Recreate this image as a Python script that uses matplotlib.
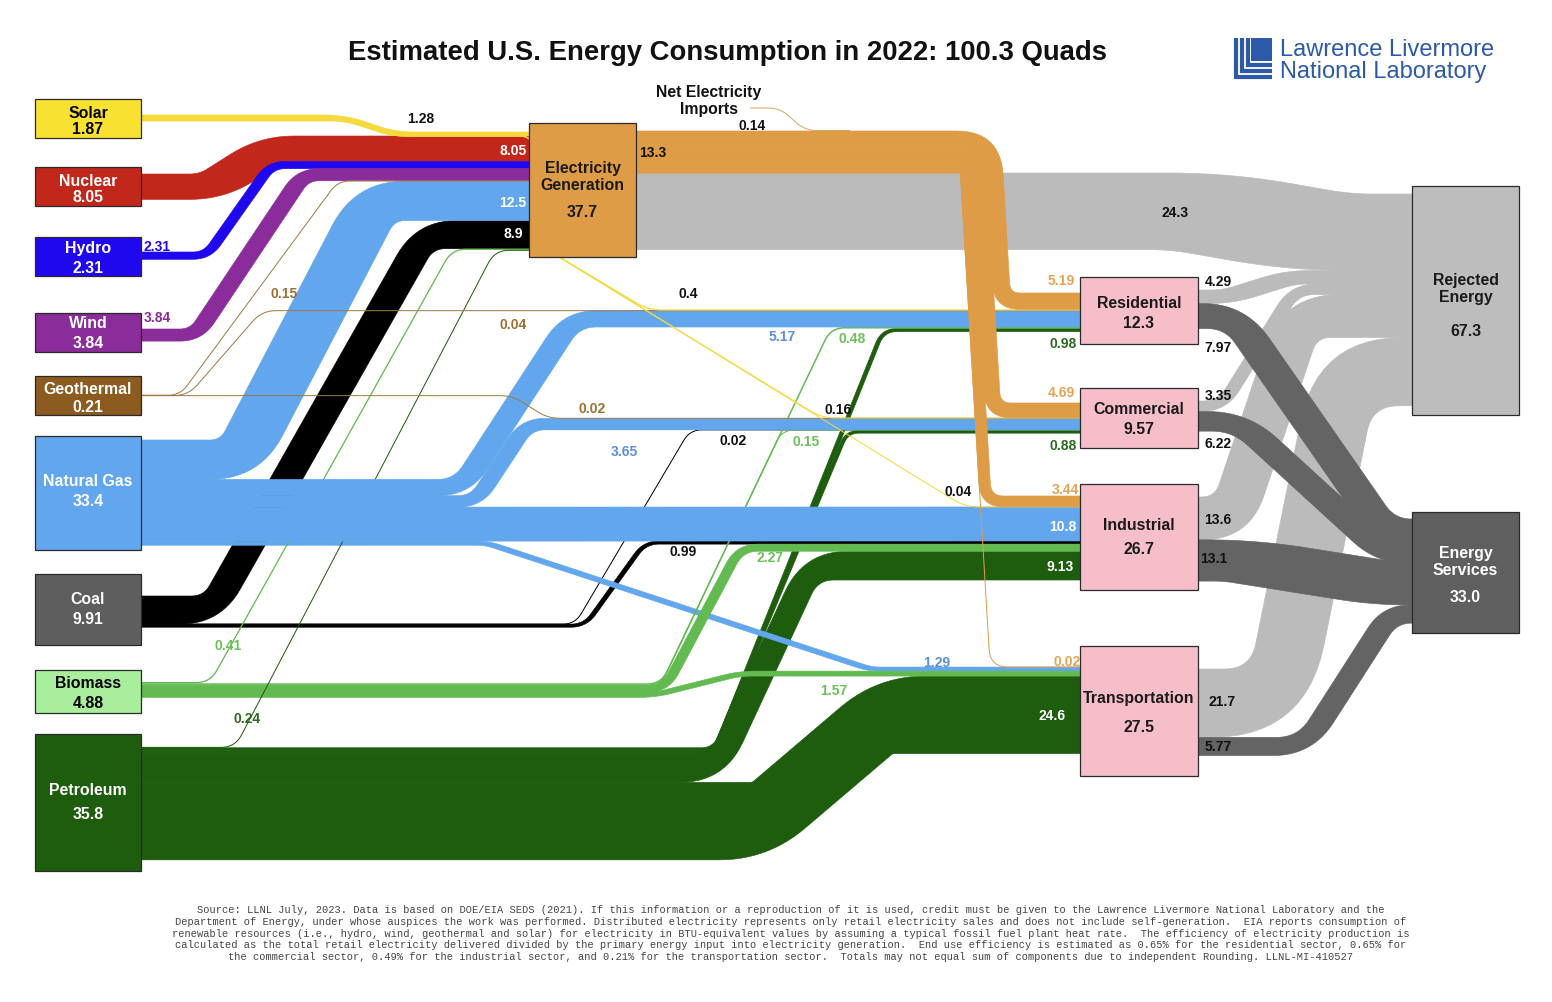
import matplotlib
matplotlib.use("Agg")
import matplotlib.pyplot as plt
from matplotlib.path import Path
from matplotlib.patches import PathPatch, Rectangle, Polygon
import numpy as np

# ---------------- data ----------------
TITLE = "Estimated U.S. Energy Consumption in 2022: 100.3 Quads"

source_names = ["Solar", "Nuclear", "Hydro", "Wind", "Geothermal",
                "Natural Gas", "Coal", "Biomass", "Petroleum"]
source_values = [1.87, 8.05, 2.31, 3.84, 0.21, 33.4, 9.91, 4.88, 35.8]

sector_names = ["Residential", "Commercial", "Industrial", "Transportation"]
sector_values = [12.3, 9.57, 26.7, 27.5]

elec_value = 37.7
elec_delivered = 13.3
imports_value = 0.14
rejected_value = 67.3
services_value = 33.0

flow_src = ["Solar", "Solar", "Solar", "Solar",
            "Nuclear", "Hydro", "Wind",
            "Geothermal", "Geothermal", "Geothermal",
            "Natural Gas", "Natural Gas", "Natural Gas", "Natural Gas", "Natural Gas",
            "Coal", "Coal", "Coal",
            "Biomass", "Biomass", "Biomass", "Biomass", "Biomass",
            "Petroleum", "Petroleum", "Petroleum", "Petroleum", "Petroleum",
            "Electricity", "Electricity", "Electricity", "Electricity", "Electricity",
            "Residential", "Residential", "Commercial", "Commercial",
            "Industrial", "Industrial", "Transportation", "Transportation"]
flow_dst = ["Electricity", "Residential", "Commercial", "Industrial",
            "Electricity", "Electricity", "Electricity",
            "Electricity", "Residential", "Commercial",
            "Electricity", "Residential", "Commercial", "Industrial", "Transportation",
            "Electricity", "Commercial", "Industrial",
            "Electricity", "Residential", "Commercial", "Industrial", "Transportation",
            "Electricity", "Residential", "Commercial", "Industrial", "Transportation",
            "Residential", "Commercial", "Industrial", "Transportation", "Rejected",
            "Rejected", "Services", "Rejected", "Services",
            "Rejected", "Services", "Rejected", "Services"]
flow_val = [1.28, 0.4, 0.16, 0.04,
            8.05, 2.31, 3.84,
            0.15, 0.04, 0.02,
            12.5, 5.17, 3.65, 10.8, 1.29,
            8.9, 0.02, 0.99,
            0.41, 0.48, 0.15, 2.27, 1.57,
            0.24, 0.98, 0.88, 9.13, 24.6,
            5.19, 4.69, 3.44, 0.02, 24.3,
            4.29, 7.97, 3.35, 6.22,
            13.6, 13.1, 21.7, 5.77]

FOOTNOTE = [
    "Source: LLNL July, 2023. Data is based on DOE/EIA SEDS (2021). If this information or a reproduction of it is used, credit must be given to the Lawrence Livermore National Laboratory and the",
    "Department of Energy, under whose auspices the work was performed. Distributed electricity represents only retail electricity sales and does not include self-generation.  EIA reports consumption of",
    "renewable resources (i.e., hydro, wind, geothermal and solar) for electricity in BTU-equivalent values by assuming a typical fossil fuel plant heat rate.  The efficiency of electricity production is",
    "calculated as the total retail electricity delivered divided by the primary energy input into electricity generation.  End use efficiency is estimated as 0.65% for the residential sector, 0.65% for",
    "the commercial sector, 0.49% for the industrial sector, and 0.21% for the transportation sector.  Totals may not equal sum of components due to independent Rounding. LLNL-MI-410527",
]

# ---------------- layout / style ----------------
W, H = 1552, 1003
S = 3.15  # pixels per quad

BOX = {
    "Solar": (35, 100, 141, 139), "Nuclear": (35, 168, 141, 207),
    "Hydro": (35, 238, 141, 277), "Wind": (35, 314, 141, 353),
    "Geothermal": (35, 377, 141, 416), "Natural Gas": (35, 437, 141, 551),
    "Coal": (35, 575, 141, 646), "Biomass": (35, 671, 141, 714),
    "Petroleum": (35, 735, 141, 872),
    "Electricity": (529, 124, 636, 258),
    "Residential": (1080, 278, 1198, 345), "Commercial": (1080, 389, 1198, 449),
    "Industrial": (1080, 485, 1198, 591), "Transportation": (1080, 647, 1198, 777),
    "Rejected": (1412, 187, 1519, 416), "Services": (1412, 513, 1519, 634),
}
OUT_Y0 = {"Solar": 116, "Nuclear": 175, "Hydro": 253, "Wind": 330, "Geothermal": 396,
          "Natural Gas": 441, "Coal": 597, "Biomass": 683, "Petroleum": 748,
          "Electricity": 132, "Residential": 291, "Commercial": 402,
          "Industrial": 498, "Transportation": 670}
IN_Y0 = {"Electricity": 133, "Residential": 294, "Commercial": 404, "Industrial": 497,
         "Transportation": 668, "Rejected": 195, "Services": 520}

# electricity delivery bundle (turns down toward the sectors)
BUNDLE_X_RIGHT, BUNDLE_Y_REF, BUNDLE_SLANT, BUNDLE_R_IN = 1000, 132, 0.06, 2

C_SOLAR = "#F6D93A"; C_NUC = "#C2271B"; C_HYD = "#2008EE"; C_WIND = "#8B2C9B"
C_GEO = "#8C5B1F"; C_GEO_L = "#A07A45"; C_NG = "#62A6EE"; C_COAL = "#000000"
C_BIO = "#62BA50"; C_PET = "#1E5C0E"; C_ELEC = "#DE9C47"; C_REJ = "#BBBBBB"; C_SVC = "#646464"
FLOW_COLOR = {"Solar": C_SOLAR, "Nuclear": C_NUC, "Hydro": C_HYD, "Wind": C_WIND,
              "Geothermal": C_GEO_L, "Natural Gas": C_NG, "Coal": C_COAL,
              "Biomass": C_BIO, "Petroleum": C_PET, "Electricity": C_ELEC}
BOX_COLOR = {"Solar": "#F9E132", "Nuclear": C_NUC, "Hydro": C_HYD, "Wind": C_WIND,
             "Geothermal": C_GEO, "Natural Gas": C_NG, "Coal": "#5E5E5E",
             "Biomass": "#A8EE9C", "Petroleum": C_PET, "Electricity": "#DE9C47",
             "Residential": "#F5BEC8", "Commercial": "#F5BEC8", "Industrial": "#F5BEC8",
             "Transportation": "#F5BEC8", "Rejected": "#BDBDBD", "Services": "#5F5F5F"}
BOX_TEXT = {"Solar": "black", "Biomass": "black", "Electricity": "#1a1a1a",
            "Residential": "#1a1a1a", "Commercial": "#1a1a1a", "Industrial": "#1a1a1a",
            "Transportation": "#1a1a1a", "Rejected": "#1a1a1a"}
DISPLAY = {"Electricity": "Electricity\nGeneration", "Rejected": "Rejected\nEnergy",
           "Services": "Energy\nServices"}
NODE_TXT_Y = {"Solar": (113, 129), "Nuclear": (181, 197), "Hydro": (248, 268),
              "Wind": (323, 343), "Geothermal": (390, 407), "Natural Gas": (482, 502),
              "Coal": (600, 620), "Biomass": (684, 704), "Petroleum": (791, 815),
              "Electricity": (177, 212), "Residential": (303, 323),
              "Commercial": (410, 430), "Industrial": (525, 549),
              "Transportation": (699, 727), "Rejected": (289, 331),
              "Services": (562, 597)}

# centerline corner waypoints; 's'/'d' = use source/destination y ; corner radius
ROUTE = {
    ("Solar", "Electricity"): ([(345, 's'), (392, 'd')], 22),
    ("Solar", "Residential"): ([(345, 's'), (392, 137), (533, 137), (546, 250), (648, 'd')], 14),
    ("Solar", "Commercial"): ([(345, 's'), (392, 137), (533, 137), (546, 250), (822, 'd')], 14),
    ("Solar", "Industrial"): ([(345, 's'), (392, 137), (533, 137), (546, 250), (965, 'd')], 14),
    ("Nuclear", "Electricity"): ([(212, 's'), (272, 'd')], 22),
    ("Hydro", "Electricity"): ([(207, 's'), (271, 'd')], 14),
    ("Wind", "Electricity"): ([(196, 's'), (303, 'd')], 16),
    ("Geothermal", "Electricity"): ([(180, 's'), (338, 'd')], 12),
    ("Geothermal", "Residential"): ([(188, 's'), (262, 'd')], 14),
    ("Geothermal", "Commercial"): ([(512, 's'), (548, 'd')], 12),
    ("Natural Gas", "Electricity"): ([(240, 's'), (375, 'd')], 30),
    ("Natural Gas", "Residential"): ([(462, 's'), (572, 'd')], 24),
    ("Natural Gas", "Commercial"): ([(476, 's'), (527, 'd')], 18),
    ("Natural Gas", "Industrial"): ([], 0),
    ("Natural Gas", "Transportation"): ([(487, 's'), (870, 'd')], 10),
    ("Coal", "Electricity"): ([(212, 's'), (425, 'd')], 26),
    ("Coal", "Commercial"): ([(575, 's'), (690, 'd')], 12),
    ("Coal", "Industrial"): ([(585, 's'), (645, 'd')], 14),
    ("Biomass", "Electricity"): ([(210, 's'), (452, 'd')], 14),
    ("Biomass", "Residential"): ([(661, 's'), (831, 'd')], 14),
    ("Biomass", "Commercial"): ([(661, 's'), (782, 'd')], 12),
    ("Biomass", "Industrial"): ([(665, 's'), (740, 'd')], 18),
    ("Biomass", "Transportation"): ([(655, 's'), (740, 'd')], 14),
    ("Petroleum", "Electricity"): ([(235, 's'), (495, 'd')], 14),
    ("Petroleum", "Residential"): ([(715, 's'), (883, 'd')], 14),
    ("Petroleum", "Commercial"): ([(713, 's'), (847, 'd')], 12),
    ("Petroleum", "Industrial"): ([(717, 's'), (811, 'd')], 30),
    ("Petroleum", "Transportation"): ([(760, 's'), (885, 'd')], 10),
    ("Electricity", "Rejected"): ([(1200, 's'), (1320, 'd')], 60),
    ("Residential", "Rejected"): ([(1228, 's'), (1290, 'd')], 18),
    ("Residential", "Services"): ([(1235, 's'), (1385, 'd')], 30),
    ("Commercial", "Rejected"): ([(1222, 's'), (1295, 'd')], 20),
    ("Commercial", "Services"): ([(1240, 's'), (1385, 'd')], 30),
    ("Industrial", "Rejected"): ([(1232, 's'), (1300, 'd')], 35),
    ("Industrial", "Services"): ([(1240, 's'), (1390, 'd')], 30),
    ("Transportation", "Rejected"): ([(1278, 's'), (1345, 'd')], 60),
    ("Transportation", "Services"): ([(1305, 's'), (1390, 'd')], 30),
}
PEN_K = {("Coal", "Electricity"): 0.6, ("Petroleum", "Industrial"): 0.5,
         ("Petroleum", "Transportation"): 0.2, ("Biomass", "Transportation"): 0.3}
PEN_K_GRAY = 0.8

ZORD = {"Rejected": 1.0, "Services": 1.5, "Electricity": 3.0, "Natural Gas": 2.4,
        "Coal": 2.2, "Petroleum": 2.1, "Biomass": 2.3, "Geothermal": 2.6,
        "Solar": 2.7, "Nuclear": 2.5, "Hydro": 2.5, "Wind": 2.5}
ZOVERRIDE = {("Natural Gas", "Transportation"): 2.25,
             ("Biomass", "Electricity"): 2.35, ("Petroleum", "Electricity"): 2.35,
             ("Electricity", "Rejected"): 1.2}

LBL_BLUE = "#5B8FD8"; LBL_LG = "#6CC05A"; LBL_DG = "#2B6A1E"; LBL_OR = "#E3A455"; LBL_BR = "#9B7030"
FLOW_LABEL = {
    ("Solar", "Electricity"): (421, 119, "#111"), ("Solar", "Residential"): (688, 294, "#111"),
    ("Solar", "Commercial"): (838, 410, "#111"), ("Solar", "Industrial"): (958, 492, "#111"),
    ("Nuclear", "Electricity"): (513, 151, "white"), ("Hydro", "Electricity"): (157, 247, C_HYD),
    ("Wind", "Electricity"): (157, 318, C_WIND), ("Geothermal", "Electricity"): (284, 294, LBL_BR),
    ("Geothermal", "Residential"): (513, 325, LBL_BR), ("Geothermal", "Commercial"): (592, 409, LBL_BR),
    ("Natural Gas", "Electricity"): (513, 203, "white"), ("Natural Gas", "Residential"): (782, 337, LBL_BLUE),
    ("Natural Gas", "Commercial"): (624, 452, LBL_BLUE), ("Natural Gas", "Industrial"): (1063, 527, "white"),
    ("Natural Gas", "Transportation"): (937, 663, LBL_BLUE),
    ("Coal", "Electricity"): (513, 234, "white"), ("Coal", "Commercial"): (733, 441, "#111"),
    ("Coal", "Industrial"): (683, 552, "#111"),
    ("Biomass", "Electricity"): (228, 646, LBL_LG), ("Biomass", "Residential"): (852, 339, LBL_LG),
    ("Biomass", "Commercial"): (806, 442, LBL_LG), ("Biomass", "Industrial"): (770, 558, LBL_LG),
    ("Biomass", "Transportation"): (834, 691, LBL_LG),
    ("Petroleum", "Electricity"): (247, 719, LBL_DG), ("Petroleum", "Residential"): (1063, 344, LBL_DG),
    ("Petroleum", "Commercial"): (1063, 446, LBL_DG), ("Petroleum", "Industrial"): (1060, 567, "white"),
    ("Petroleum", "Transportation"): (1052, 716, "white"),
    ("Electricity", "Residential"): (1061, 281, LBL_OR), ("Electricity", "Commercial"): (1061, 393, LBL_OR),
    ("Electricity", "Industrial"): (1065, 490, LBL_OR), ("Electricity", "Transportation"): (1067, 662, LBL_OR),
    ("Electricity", "Rejected"): (1175, 213, "#111"),
    ("Residential", "Rejected"): (1218, 282, "#111"), ("Residential", "Services"): (1218, 348, "#111"),
    ("Commercial", "Rejected"): (1218, 396, "#111"), ("Commercial", "Services"): (1218, 444, "#111"),
    ("Industrial", "Rejected"): (1218, 520, "#111"), ("Industrial", "Services"): (1214, 559, "#111"),
    ("Transportation", "Rejected"): (1222, 702, "#111"), ("Transportation", "Services"): (1218, 747, "#111"),
}

FONT = "Liberation Sans"


def fmt_node(v):
    return f"{v:.1f}" if v >= 10 else f"{v:.2f}"


def rounded_pts(pts, radii, nseg=14):
    """Polyline with quadratic-rounded corners, returned as list of points."""
    out = [tuple(pts[0])]
    n = len(pts)
    for i in range(1, n - 1):
        p0 = np.array(pts[i - 1], float); p1 = np.array(pts[i], float); p2 = np.array(pts[i + 1], float)
        d1 = np.linalg.norm(p1 - p0); d2 = np.linalg.norm(p2 - p1)
        r = radii[i - 1] if isinstance(radii, (list, tuple)) else radii
        lim1 = d1 * (0.9 if i == 1 else 0.5)
        lim2 = d2 * (0.9 if i == n - 2 else 0.5)
        r = min(r, lim1, lim2)
        if r <= 0.5 or d1 == 0 or d2 == 0:
            out.append(tuple(p1))
            continue
        a = p1 + (p0 - p1) / d1 * r
        b = p1 + (p2 - p1) / d2 * r
        for s in np.linspace(0, 1, nseg):
            q = (1 - s) ** 2 * a + 2 * (1 - s) * s * p1 + s ** 2 * b
            out.append(tuple(q))
    out.append(tuple(pts[-1]))
    return out


def band_polygon(pts, t, radii, k):
    n = len(pts)
    top, bot, rt, rb = [], [], [], []
    for i, p in enumerate(pts):
        if i == 0 or i == n - 1:
            top.append((p[0], p[1] - t / 2)); bot.append((p[0], p[1] + t / 2))
            continue
        dy_in = p[1] - pts[i - 1][1]; dy_out = pts[i + 1][1] - p[1]
        dy = dy_in if abs(dy_in) > abs(dy_out) else dy_out
        sx = 0.0 if abs(dy) < 1e-6 else k * t / 2 * (1 if dy > 0 else -1)
        top.append((p[0] + sx, p[1] - t / 2)); bot.append((p[0] - sx, p[1] + t / 2))
        din = np.subtract(p, pts[i - 1]); dout = np.subtract(pts[i + 1], p)
        cross = din[0] * dout[1] - din[1] * dout[0]
        r = radii[i - 1] if isinstance(radii, (list, tuple)) else radii
        if cross > 0:
            rt.append(r + t / 2); rb.append(max(r - t / 2, 2))
        else:
            rt.append(max(r - t / 2, 2)); rb.append(r + t / 2)
    tp = rounded_pts(top, rt)
    bp = rounded_pts(bot, rb)
    return tp + bp[::-1]


# ---------------- figure ----------------
fig = plt.figure(figsize=(W / 100, H / 100), dpi=100)
ax = fig.add_axes([0, 0, 1, 1])
ax.set_xlim(0, W)
ax.set_ylim(H, 0)
ax.axis("off")

canon = source_names + ["Electricity"] + sector_names + ["Rejected", "Services"]
flows = [dict(s=s, d=d, v=v) for s, d, v in zip(flow_src, flow_dst, flow_val)]

# stacking at each node
for node in canon:
    outs = sorted([f for f in flows if f["s"] == node], key=lambda f: canon.index(f["d"]))
    y = OUT_Y0.get(node, 0)
    for f in outs:
        t = f["v"] * S
        f["ys"] = y + t / 2
        f["off_s"] = y + t / 2 - OUT_Y0.get(node, 0)
        y += t
    ins = sorted([f for f in flows if f["d"] == node],
                 key=lambda f: -1 if f["s"] == "Electricity" else canon.index(f["s"]))
    y = IN_Y0.get(node, 0)
    for f in ins:
        t = f["v"] * S
        f["yd"] = y + t / 2
        y += t

bundle_w = sum(f["v"] * S for f in flows if f["s"] == "Electricity" and f["d"] in sector_names)

for f in flows:
    key = (f["s"], f["d"])
    t = f["v"] * S
    xs = BOX[f["s"]][2] - 1
    xd = BOX[f["d"]][0] + 1
    if f["s"] == "Electricity" and f["d"] in sector_names:
        xc = lambda yy: BUNDLE_X_RIGHT - f["off_s"] + BUNDLE_SLANT * (yy - BUNDLE_Y_REF)
        pts = [(xs, f["ys"]), (xc(f["ys"]), f["ys"]), (xc(f["yd"]), f["yd"]), (xd, f["yd"])]
        rad = [BUNDLE_R_IN + (bundle_w - f["off_s"]), 18]
        k = 1.0
    else:
        wps, rad = ROUTE[key]
        pts = [(xs, f["ys"])]
        for (x, y) in wps:
            yy = f["ys"] if y == 's' else (f["yd"] if y == 'd' else y)
            pts.append((x, yy))
        pts.append((xd, f["yd"]))
        k = PEN_K.get(key, PEN_K_GRAY if f["d"] in ("Rejected", "Services") else 1.0)
    if f["d"] == "Rejected":
        col = C_REJ
    elif f["d"] == "Services":
        col = C_SVC
    else:
        col = FLOW_COLOR[f["s"]]
    z = ZOVERRIDE.get(key, ZORD.get(f["d"] if f["d"] in ("Rejected", "Services") else f["s"], 2))
    if t < 2.0:
        path = Path(rounded_pts(pts, rad))
        ax.add_patch(PathPatch(path, facecolor="none", edgecolor=col,
                               lw=max(t, 1.0) * 0.72, capstyle="butt", joinstyle="round", zorder=z))
    else:
        poly = band_polygon(pts, t, rad, k)
        ax.add_patch(Polygon(poly, closed=True, facecolor=col, edgecolor=col, lw=0.45,
                             joinstyle="round", zorder=z))
    lx, ly, lc = FLOW_LABEL[key]
    ax.text(lx, ly, f"{f['v']:g}", color=lc, fontsize=10, fontweight="bold",
            family=FONT, ha="center", va="center", zorder=12)

# net electricity imports
imp_path = Path(rounded_pts([(750, 109), (780, 109), (805, 131.5), (850, 131.5)], 12))
ax.add_patch(PathPatch(imp_path, facecolor="none", edgecolor="#D9A565",
                       lw=max(imports_value * S, 1.0) * 0.72, zorder=3.1))
ax.text(709, 101, "Net Electricity\nImports", fontsize=11.3, fontweight="bold", family=FONT,
        ha="center", va="center", linespacing=1.2, color="#111", zorder=12)
ax.text(752, 126, f"{imports_value:g}", fontsize=10, fontweight="bold", family=FONT,
        ha="center", va="center", color="#111", zorder=12)
ax.text(653, 153, f"{elec_delivered:g}", fontsize=10, fontweight="bold", family=FONT,
        ha="center", va="center", color="#111", zorder=12)

# nodes
node_vals = dict(zip(source_names, source_values))
node_vals.update(dict(zip(sector_names, sector_values)))
node_vals.update({"Electricity": elec_value, "Rejected": rejected_value, "Services": services_value})
for node, (x0, y0, x1, y1) in BOX.items():
    ax.add_patch(Rectangle((x0, y0), x1 - x0, y1 - y0, facecolor=BOX_COLOR[node],
                           edgecolor="#2a2a2a", lw=0.9, zorder=10))
    cx = (x0 + x1) / 2
    ny, vy = NODE_TXT_Y[node]
    tc = BOX_TEXT.get(node, "white")
    fs = 11.4
    ax.text(cx, ny, DISPLAY.get(node, node), color=tc, fontsize=fs, fontweight="bold",
            family=FONT, ha="center", va="center", linespacing=1.12, zorder=11)
    ax.text(cx, vy, fmt_node(node_vals[node]), color=tc, fontsize=fs, fontweight="bold",
            family=FONT, ha="center", va="center", zorder=11)

# title
ax.text(727, 53, TITLE, fontsize=19.8, fontweight="bold", family=FONT,
        ha="center", va="center", color="#111", zorder=12)

# logo
LOGO_BLUE = "#2C5AA8"
for off in (0, 6, 12):
    ax.plot([1236 + off, 1236 + off, 1272], [39, 78 - off, 78 - off], color=LOGO_BLUE,
            lw=3.0, solid_joinstyle="miter", solid_capstyle="butt", zorder=12)
ax.add_patch(Rectangle((1251, 39), 21, 23, facecolor=LOGO_BLUE, edgecolor="none", zorder=12))
ax.text(1280, 50, "Lawrence Livermore", fontsize=17, family=FONT, color=LOGO_BLUE,
        ha="left", va="center", zorder=12)
ax.text(1280, 72, "National Laboratory", fontsize=17, family=FONT, color=LOGO_BLUE,
        ha="left", va="center", zorder=12)

# footnote
for i, line in enumerate(FOOTNOTE):
    ax.text(791, 910 + i * 11.8, line, fontsize=7.45, family="Liberation Mono",
            color="#444", ha="center", va="center", zorder=12)

fig.savefig("out.png", dpi=100, facecolor="white")
